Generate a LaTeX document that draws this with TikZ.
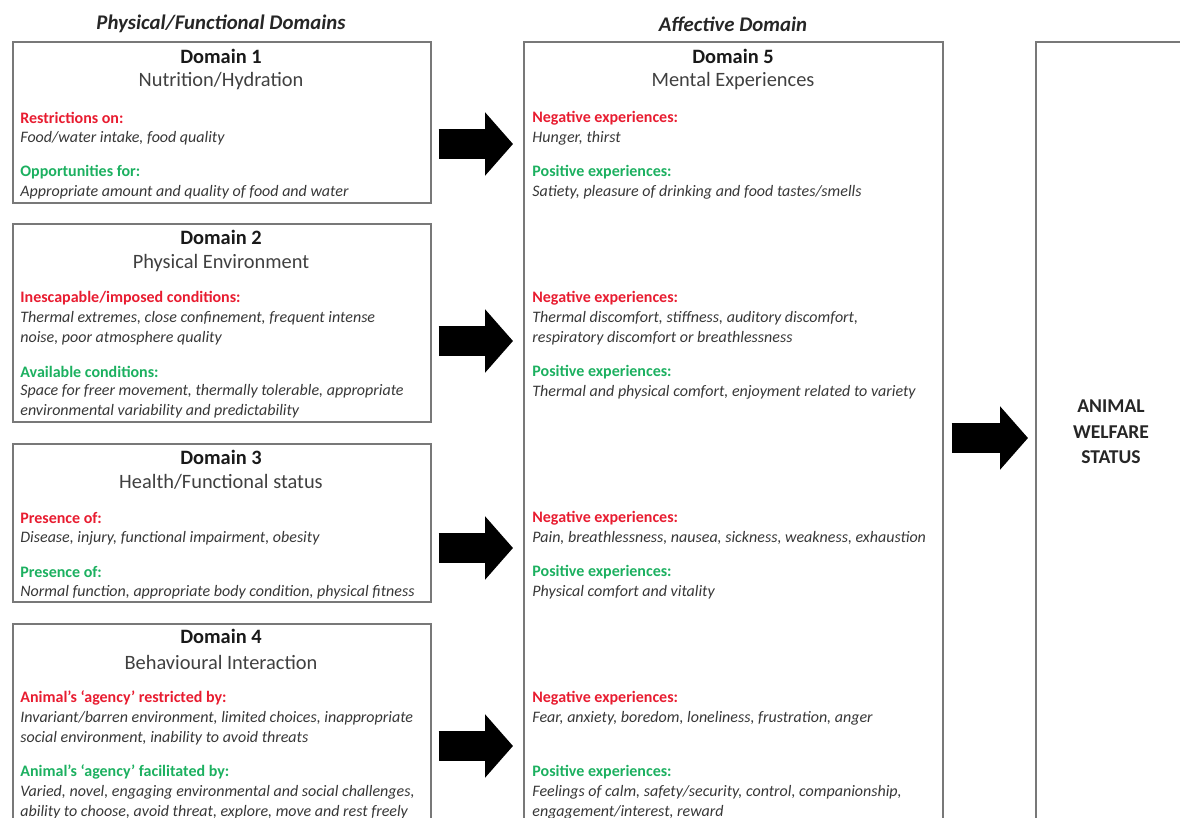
\documentclass[tikz,border=0pt]{standalone}
\usepackage{fontspec}
\setmainfont{Carlito}
\usetikzlibrary{positioning,arrows.meta}

\definecolor{negred}{RGB}{232,28,48}
\definecolor{posgreen}{RGB}{28,176,96}
\definecolor{bodygray}{RGB}{55,55,55}
\definecolor{boxgray}{RGB}{120,120,120}

\tikzset{
  domainbox/.style={draw=boxgray,line width=0.8pt,anchor=north west,inner sep=0pt},
  colhead/.style={font=\fontsize{10.4}{12}\selectfont\bfseries\itshape,text=black!85},
  dtitle/.style={font=\fontsize{10.2}{12}\selectfont\bfseries,text=black!90},
  dsub/.style={font=\fontsize{10.2}{12}\selectfont,text=black!75},
  neghead/.style={font=\fontsize{8}{10}\selectfont\bfseries,text=negred,anchor=west,inner sep=0pt},
  poshead/.style={font=\fontsize{8}{10}\selectfont\bfseries,text=posgreen,anchor=west,inner sep=0pt},
  item/.style={font=\fontsize{8}{10}\selectfont\itshape,text=bodygray,anchor=west,align=left,inner sep=0pt},
  bigarrow/.style={line width=15pt,-{Triangle[length=14pt,width=31pt]}}
}

\begin{document}
\begin{tikzpicture}[x=0.5pt,y=-0.5pt]
\useasboundingbox (0,0) rectangle (1180,818);
\clip (0,0) rectangle (1180,818);

% Column headings
\node[colhead] (physhead) at (221,24) {Physical/Functional Domains};
\node[colhead] (affhead) at (733,24) {Affective Domain};

% Boxes
\node[domainbox,minimum width=209pt,minimum height=80.5pt] (d1) at (12,41) {};
\node[domainbox,minimum width=209pt,minimum height=99pt] (d2) at (12,223) {};
\node[domainbox,minimum width=209pt,minimum height=79pt] (d3) at (12,443) {};
\node[domainbox,minimum width=209pt,minimum height=125pt] (d4) at (12,623) {};
\node[domainbox,minimum width=209.5pt,minimum height=400pt] (d5) at (523,41) {};
\node[domainbox,minimum width=100pt,minimum height=400pt] (welfare) at (1035,41) {};

% Domain 1
\node[dtitle] (d1t) at (221,56) {Domain 1};
\node[dsub] (d1s) at (221,81) {Nutrition/Hydration};
\node[neghead] (d1r) at (20,118) {Restrictions on:};
\node[item] (d1ri) at (20,138) {Food/water intake, food quality};
\node[poshead] (d1g) at (20,172) {Opportunities for:};
\node[item] (d1gi) at (20,192) {Appropriate amount and quality of food and water};

% Domain 2
\node[dtitle] (d2t) at (221,237) {Domain 2};
\node[dsub] (d2s) at (221,263) {Physical Environment};
\node[neghead] (d2r) at (20,298) {Inescapable/imposed conditions:};
\node[item] (d2ri) at (20,328) {Thermal extremes, close confinement, frequent intense\\noise, poor atmosphere quality};
\node[poshead] (d2g) at (20,372) {Available conditions:};
\node[item] (d2gi) at (20,401.5) {Space for freer movement, thermally tolerable, appropriate\\environmental variability and predictability};

% Domain 3
\node[dtitle] (d3t) at (221,457) {Domain 3};
\node[dsub] (d3s) at (221,482) {Health/Functional status};
\node[neghead] (d3r) at (20,518) {Presence of:};
\node[item] (d3ri) at (20,538) {Disease, injury, functional impairment, obesity};
\node[poshead] (d3g) at (20,572) {Presence of:};
\node[item] (d3gi) at (20,592) {Normal function, appropriate body condition, physical fitness};

% Domain 4
\node[dtitle] (d4t) at (221,636) {Domain 4};
\node[dsub] (d4s) at (221,662) {Behavioural Interaction};
\node[neghead] (d4r) at (20,698) {Animal’s ‘agency’ restricted by:};
\node[item] (d4ri) at (20,728) {Invariant/barren environment, limited choices, inappropriate\\social environment, inability to avoid threats};
\node[poshead] (d4g) at (20,772) {Animal’s ‘agency’ facilitated by:};
\node[item] (d4gi) at (20,802) {Varied, novel, engaging environmental and social challenges,\\ability to choose, avoid threat, explore, move and rest freely};

% Domain 5
\node[dtitle] (d5t) at (733,56) {Domain 5};
\node[dsub] (d5s) at (733,81) {Mental Experiences};
\node[neghead] (d5n1) at (532,118) {Negative experiences:};
\node[item] (d5n1i) at (532,138) {Hunger, thirst};
\node[poshead] (d5p1) at (532,172) {Positive experiences:};
\node[item] (d5p1i) at (532,192) {Satiety, pleasure of drinking and food tastes/smells};
\node[neghead] (d5n2) at (532,298) {Negative experiences:};
\node[item] (d5n2i) at (532,328) {Thermal discomfort, stiffness, auditory discomfort,\\respiratory discomfort or breathlessness};
\node[poshead] (d5p2) at (532,372) {Positive experiences:};
\node[item] (d5p2i) at (532,392) {Thermal and physical comfort, enjoyment related to variety};
\node[neghead] (d5n3) at (532,518) {Negative experiences:};
\node[item] (d5n3i) at (532,538) {Pain, breathlessness, nausea, sickness, weakness, exhaustion};
\node[poshead] (d5p3) at (532,572) {Positive experiences:};
\node[item] (d5p3i) at (532,592) {Physical comfort and vitality};
\node[neghead] (d5n4) at (532,698) {Negative experiences:};
\node[item] (d5n4i) at (532,718) {Fear, anxiety, boredom, loneliness, frustration, anger};
\node[poshead] (d5p4) at (532,772) {Positive experiences:};
\node[item] (d5p4i) at (532,802) {Feelings of calm, safety/security, control, companionship,\\engagement/interest, reward};

% Welfare status
\node[font=\fontsize{9.8}{12.7}\selectfont\bfseries,text=black!85,align=center] (ws) at (1111,432) {ANIMAL\\WELFARE\\STATUS};

% Arrows
\draw[bigarrow,shorten <=3.5pt,shorten >=5pt] (d1.east |- 0,144) -- (d5.west |- 0,144);
\draw[bigarrow,shorten <=3.5pt,shorten >=5pt] (d2.east |- 0,341) -- (d5.west |- 0,341);
\draw[bigarrow,shorten <=3.5pt,shorten >=5pt] (d3.east |- 0,548) -- (d5.west |- 0,548);
\draw[bigarrow,shorten <=3.5pt,shorten >=5pt] (d4.east |- 0,746) -- (d5.west |- 0,746);
\draw[bigarrow,shorten <=4pt,shorten >=3.5pt] (d5.east |- 0,438) -- (welfare.west |- 0,438);

\end{tikzpicture}
\end{document}
